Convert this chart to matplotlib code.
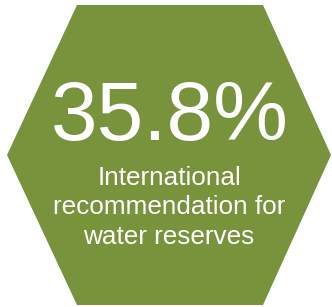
import matplotlib.pyplot as plt
from matplotlib.patches import Polygon

# values
value = 35.8
caption_lines = ['International', 'recommendation for', 'water reserves']

W, H = 332, 307
green = '#78933C'

fig = plt.figure(figsize=(W / 100, H / 100), dpi=100)
ax = fig.add_axes([0, 0, 1, 1])
ax.set_xlim(0, W)
ax.set_ylim(H, 0)
ax.axis('off')

# flat-topped hexagon
hexagon = Polygon([(77, 5), (263, 5), (331, 155), (263, 305), (77, 305), (7, 155)],
                  closed=True, facecolor=green, edgecolor='none')
ax.add_patch(hexagon)

ax.text(170, 140, f'{value:.1f}%', color='white', fontsize=60.5,
        family='Liberation Sans', ha='center', va='baseline')

for i, line in enumerate(caption_lines):
    ax.text(169, 185 + i * 29.5, line, color='white', fontsize=18.8,
            family='Liberation Sans', ha='center', va='baseline')

fig.savefig('out.png', dpi=100)
